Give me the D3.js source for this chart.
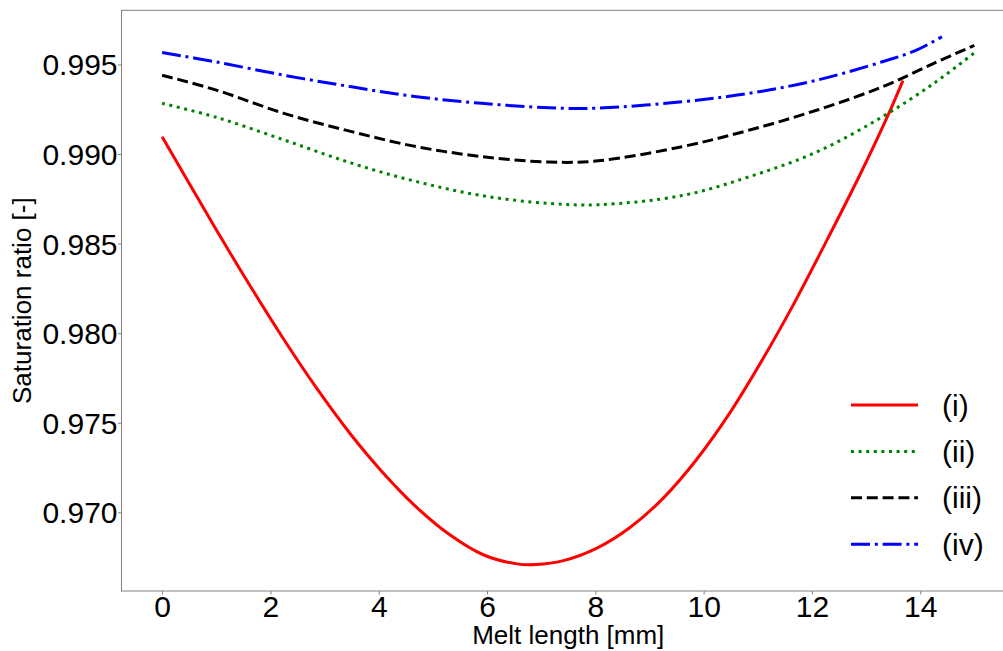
<!DOCTYPE html>
<html>
<head>
    <title>Saturation ratio vs melt length</title>
    <script src="https://d3js.org/d3.v7.min.js"></script>
    <style>
        body { margin: 0; background: #fff; }
        text { font-family: "Liberation Sans", Arial, sans-serif; fill: #000; }
        .axis path { display: none; }
        .axis line { stroke: #808080; }
    </style>
</head>
<body>
    <script>
        // Data (melt length in mm, saturation ratio)
        const xRed = [0, 1, 1.63, 2.24, 2.86, 3.47, 4.09, 4.7, 5.32, 5.93, 6.55, 6.9, 7.41, 8.03, 8.64, 9.25, 9.87, 10.49, 11.13, 11.65, 12.27, 12.88, 13.41, 13.68];
        const yRed = [0.99097, 0.98577, 0.98262, 0.97969, 0.97690, 0.97440, 0.97217, 0.97028, 0.96873, 0.96763, 0.96712, 0.96708, 0.96730, 0.96800, 0.96915, 0.97078, 0.97295, 0.97558, 0.97875, 0.98155, 0.98515, 0.98880, 0.99220, 0.99410];

        const xGreen = [0, 1, 2.25, 3.5, 4.7, 5.9, 7.15, 8.05, 9.6, 10.85, 12.1, 13.3, 14.25, 15];
        const yGreen = [0.99283, 0.99205, 0.99079, 0.98949, 0.98846, 0.98768, 0.98724, 0.98717, 0.98768, 0.98874, 0.99013, 0.99208, 0.99394, 0.99565];

        const xBlack = [0, 1, 2.25, 3.5, 4.7, 5.9, 7.15, 8.05, 9.6, 10.85, 12.1, 13.3, 14.25, 15];
        const yBlack = [0.99440, 0.99357, 0.99227, 0.99125, 0.99041, 0.98986, 0.98955, 0.98962, 0.99041, 0.99134, 0.99246, 0.99375, 0.99506, 0.99607];

        const xBlue = [0, 1, 2.25, 3.5, 4.7, 5.9, 7.15, 8.05, 9.6, 10.85, 12.1, 13.3, 13.93, 14.4];
        const yBlue = [0.99567, 0.99514, 0.99440, 0.99375, 0.99320, 0.99283, 0.99258, 0.99256, 0.99292, 0.99339, 0.99413, 0.99515, 0.99580, 0.99655];

        const labels = ["(i)", "(ii)", "(iii)", "(iv)"];
        const xTicks = [0, 2, 4, 6, 8, 10, 12, 14];
        const yTicks = [0.970, 0.975, 0.980, 0.985, 0.990, 0.995];

        const series = [
            { name: labels[0], xs: xRed, ys: yRed, color: "#ff0000", dash: null },
            { name: labels[1], xs: xGreen, ys: yGreen, color: "#008000", dash: "3,4.6" },
            { name: labels[2], xs: xBlack, ys: yBlack, color: "#000000", dash: "11,4.8" },
            { name: labels[3], xs: xBlue, ys: yBlue, color: "#0000ff", dash: "19,4.8,3,4.8" }
        ];

        const W = 1003, H = 651;
        const margin = { top: 10.3, left: 121.5 };
        const width = 893.5;   // right spine falls just outside the window
        const height = 580.7;

        const svg = d3.select("body").append("svg")
            .attr("width", W)
            .attr("height", H);

        const g = svg.append("g")
            .attr("transform", `translate(${margin.left},${margin.top})`);

        // matplotlib-style 5% margins around the data
        const allX = [].concat(xRed, xGreen, xBlack, xBlue);
        const allY = [].concat(yRed, yGreen, yBlack, yBlue);
        const [x0, x1] = d3.extent(allX);
        const [y0, y1] = d3.extent(allY);
        const px = (x1 - x0) * 0.05, py = (y1 - y0) * 0.05;

        const xScale = d3.scaleLinear().domain([x0 - px, x1 + px]).range([0, width]);
        const yScale = d3.scaleLinear().domain([y0 - py, y1 + py]).range([height, 0]);

        // frame
        g.append("rect")
            .attr("width", width)
            .attr("height", height)
            .attr("fill", "none")
            .attr("stroke", "#808080")
            .attr("stroke-width", 1);

        // axes
        const xAxis = g.append("g")
            .attr("class", "axis")
            .attr("transform", `translate(0,${height})`)
            .call(d3.axisBottom(xScale).tickValues(xTicks).tickSize(3.5).tickPadding(1.5).tickFormat(d3.format("d")));
        xAxis.selectAll("text").style("font-size", "30px").attr("dy", "0.71em");

        const yAxis = g.append("g")
            .attr("class", "axis")
            .call(d3.axisLeft(yScale).tickValues(yTicks).tickSize(3.5).tickPadding(0.5).tickFormat(d3.format(".3f")));
        yAxis.selectAll("text").style("font-size", "30px").attr("dy", "0.35em");

        // lines
        const line = d3.line()
            .x(d => xScale(d[0]))
            .y(d => yScale(d[1]))
            .curve(d3.curveCatmullRom.alpha(0.5));

        series.forEach(s => {
            g.append("path")
                .datum(s.xs.map((x, i) => [x, s.ys[i]]))
                .attr("d", line)
                .attr("fill", "none")
                .attr("stroke", s.color)
                .attr("stroke-width", 3)
                .attr("stroke-dasharray", s.dash);
        });

        // axis labels
        svg.append("text")
            .attr("x", margin.left + width / 2)
            .attr("y", 644)
            .attr("text-anchor", "middle")
            .style("font-size", "26px")
            .text("Melt length [mm]");

        svg.append("text")
            .attr("transform", `translate(31,${margin.top + height / 2}) rotate(-90)`)
            .attr("text-anchor", "middle")
            .style("font-size", "26px")
            .text("Saturation ratio [-]");

        // legend
        const legend = svg.append("g");
        series.forEach((s, i) => {
            const y = 405 + i * 46.4;
            legend.append("line")
                .attr("x1", 851).attr("x2", 918)
                .attr("y1", y).attr("y2", y)
                .attr("stroke", s.color)
                .attr("stroke-width", 3)
                .attr("stroke-dasharray", s.dash);
            legend.append("text")
                .attr("x", 942)
                .attr("y", y)
                .attr("dy", "0.35em")
                .style("font-size", "30px")
                .text(s.name);
        });
    </script>
</body>
</html>
